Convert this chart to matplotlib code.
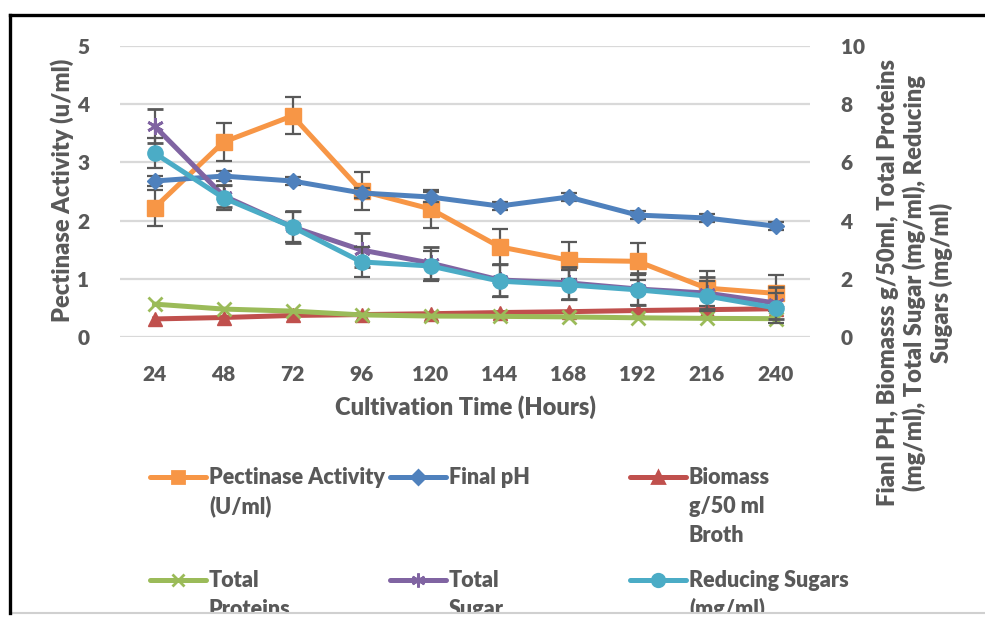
import matplotlib
matplotlib.use("Agg")
import matplotlib.pyplot as plt
from matplotlib.lines import Line2D
from matplotlib.patches import Rectangle

plt.rcParams['font.family'] = 'Lato'
plt.rcParams['font.weight'] = 'heavy'

# data
hours = [24, 48, 72, 96, 120, 144, 168, 192, 216, 240]
pectinase = [2.22, 3.35, 3.80, 2.51, 2.20, 1.55, 1.32, 1.30, 0.84, 0.75]
pectinase_err = [0.31, 0.33, 0.32, 0.33, 0.33, 0.31, 0.32, 0.32, 0.30, 0.31]
final_ph = [5.36, 5.53, 5.36, 4.95, 4.81, 4.50, 4.81, 4.19, 4.09, 3.81]
final_ph_err = [0.17, 0.17, 0.15, 0.17, 0.17, 0.15, 0.15, 0.15, 0.15, 0.15]
biomass = [0.62, 0.67, 0.74, 0.77, 0.80, 0.84, 0.87, 0.91, 0.94, 0.97]
proteins = [1.13, 0.96, 0.89, 0.76, 0.72, 0.71, 0.69, 0.66, 0.64, 0.63]
total_sugar = [7.25, 4.85, 3.78, 2.99, 2.54, 1.96, 1.86, 1.65, 1.51, 1.17]
total_sugar_err = [0.58, 0.38, 0.55, 0.58, 0.55, 0.55, 0.55, 0.55, 0.55, 0.55]
reducing = [6.32, 4.78, 3.78, 2.58, 2.44, 1.92, 1.79, 1.62, 1.41, 1.00]
reducing_err = [0.52, 0.40, 0.52, 0.52, 0.52, 0.55, 0.52, 0.52, 0.52, 0.52]

left_ticks = [0, 1, 2, 3, 4, 5]
right_ticks = [0, 2, 4, 6, 8, 10]

C_ORANGE = '#F79646'
C_BLUE = '#4F81BD'
C_RED = '#C0504D'
C_GREEN = '#9BBB59'
C_PURPLE = '#8064A2'
C_CYAN = '#4BACC6'
TXT = '#595959'
GRID = '#D9D9D9'
FONT = dict(family='Lato', fontweight='heavy', color=TXT)

W, H = 985, 617


def fx(px):
    return px / W


def fy(py):
    return 1 - py / H


fig = plt.figure(figsize=(9.85, 6.17), dpi=100)
ax = fig.add_axes([fx(120), fy(337), fx(810) - fx(120), fy(46) - fy(337)])
ax2 = ax.twinx()

x = list(range(len(hours)))
ekw = dict(ecolor='#595959', elinewidth=1.6, capsize=6, capthick=1.6)
lw = 3.6

ax.errorbar(x, pectinase, yerr=pectinase_err, color=C_ORANGE, lw=lw,
            marker='s', ms=11, zorder=3, **ekw)

ax2.plot(x, biomass, color=C_RED, lw=lw, marker='^', ms=10, zorder=2)
ax2.plot(x, proteins, color=C_GREEN, lw=lw, marker='x', ms=10, mew=2, zorder=3)
ax2.errorbar(x, final_ph, yerr=final_ph_err, color=C_BLUE, lw=lw,
             marker='D', ms=8, zorder=4, **ekw)
ax2.errorbar(x, total_sugar, yerr=total_sugar_err, color=C_PURPLE, lw=lw,
             marker=(6, 2, 0), ms=12, mew=2, mec=C_PURPLE, zorder=5, **ekw)
ax2.errorbar(x, reducing, yerr=reducing_err, color=C_CYAN, lw=lw,
             marker='o', ms=11, zorder=6, **ekw)

ax.set_xlim(-0.5, len(hours) - 0.5)
ax.set_ylim(0, 5)
ax2.set_ylim(0, 10)
ax.set_yticks(left_ticks)
ax2.set_yticks(right_ticks)
ax.set_xticks(x)
ax.set_xticklabels([str(h) for h in hours])
ax.grid(axis='y', color=GRID, lw=1.6)
ax.set_axisbelow(True)
for a in (ax, ax2):
    for s in a.spines.values():
        s.set_visible(False)
    a.tick_params(length=0, labelsize=15, labelcolor=TXT)
    for lab in a.get_xticklabels() + a.get_yticklabels():
        lab.set_family('Lato')
        lab.set_fontweight('heavy')
ax.tick_params(axis='y', pad=22)
ax.tick_params(axis='x', pad=20)
ax2.tick_params(axis='y', pad=22)

fig.text(fx(62), fy(190), 'Pectinase Activity (u/ml)', rotation=90,
         ha='center', va='center', fontsize=17, **FONT)
fig.text(fx(465), fy(407), 'Cultivation Time (Hours)', ha='center',
         va='center', fontsize=17, **FONT)
fig.text(fx(915), fy(283),
         'Fianl PH, Biomasss g/50ml, Total Proteins\n'
         '(mg/ml), Total Sugar (mg/ml), Reducing\nSugars (mg/ml)',
         rotation=90, ha='center', va='center', multialignment='center',
         fontsize=17, linespacing=1.15, **FONT)

# legend laid out like the original, handle next to first text line
legend_items = [
    ('Pectinase Activity\n(U/ml)', C_ORANGE, 's', 9, 150, 477),
    ('Final pH', C_BLUE, 'D', 7, 390, 477),
    ('Biomass\ng/50 ml\nBroth', C_RED, '^', 9, 630, 477),
    ('Total\nProteins', C_GREEN, 'x', 9, 150, 580),
    ('Total\nSugar', C_PURPLE, (6, 2, 0), 10, 390, 580),
    ('Reducing Sugars\n(mg/ml)', C_CYAN, 'o', 9, 630, 580),
]
for label, col, mk, ms, px, py in legend_items:
    fig.add_artist(Line2D([fx(px), fx(px + 56)], [fy(py), fy(py)],
                          color=col, lw=lw, solid_capstyle='round'))
    fig.add_artist(Line2D([fx(px + 28)], [fy(py)], marker=mk, ms=ms,
                          color=col, mec=col, mew=2))
    for i, line in enumerate(label.split('\n')):
        fig.text(fx(px + 59), fy(py + 7 + 29 * i), line, ha='left',
                 va='baseline', fontsize=15.5, **FONT)

# frame: black top and left edge, cut-off bottom with grey line
fig.add_artist(Rectangle((0, 0), 1, fy(613), transform=fig.transFigure,
                         facecolor='white', edgecolor='none', zorder=10))
fig.add_artist(Line2D([fx(10), 1], [fy(613), fy(613)], color='#D0D0D0',
                      lw=1.5, zorder=11))
fig.add_artist(Line2D([fx(10), 1], [fy(15), fy(15)], color='black',
                      lw=2.4, zorder=11))
fig.add_artist(Line2D([fx(10), fx(10)], [fy(15), fy(613)], color='black',
                      lw=2.4, zorder=11))

fig.savefig('out.png', dpi=100)
